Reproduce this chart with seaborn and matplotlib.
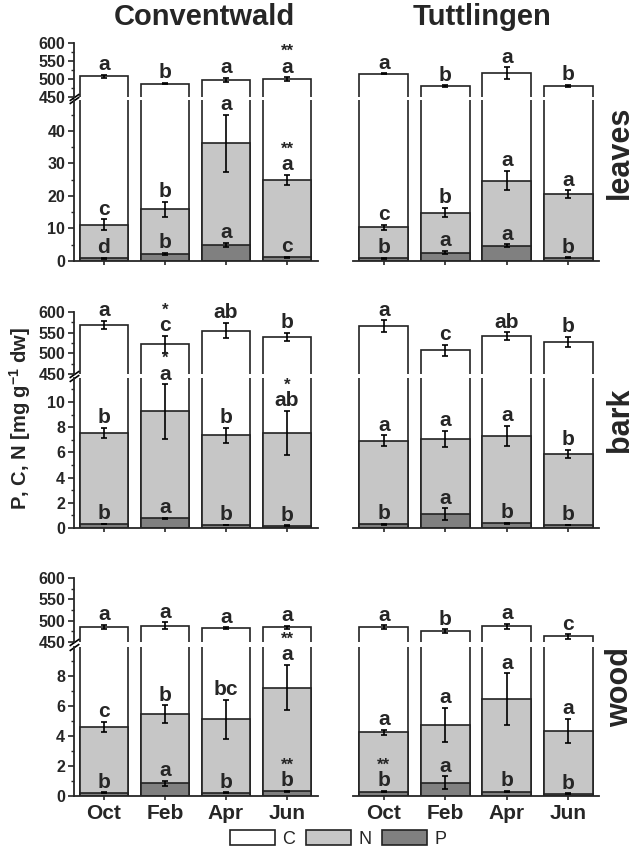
import numpy as np
import matplotlib
matplotlib.use("Agg")
import matplotlib.pyplot as plt
import seaborn as sns
from matplotlib.patches import Patch
from matplotlib.ticker import MultipleLocator

months = ["Oct", "Feb", "Apr", "Jun"]
NOSIG = ["", "", "", ""]

# Conventwald
cw_leaves_C = [508, 487, 498, 500]
cw_leaves_C_err = [4, 2, 6, 5]
cw_leaves_C_let = ["a", "b", "a", "a"]
cw_leaves_C_sig = ["", "", "", "**"]
cw_leaves_N = [11.2, 15.9, 36.2, 25.0]
cw_leaves_N_err = [1.6, 2.3, 8.8, 1.5]
cw_leaves_N_let = ["c", "b", "a", "a"]
cw_leaves_N_sig = ["", "", "", "**"]
cw_leaves_P = [0.8, 2.1, 4.9, 1.1]
cw_leaves_P_err = [0.2, 0.3, 0.6, 0.2]
cw_leaves_P_let = ["d", "b", "a", "c"]

cw_bark_C = [569, 522, 555, 540]
cw_bark_C_err = [10, 20, 18, 9]
cw_bark_C_let = ["a", "c", "ab", "b"]
cw_bark_C_sig = ["", "*", "", ""]
cw_bark_N = [7.55, 9.25, 7.37, 7.55]
cw_bark_N_err = [0.4, 2.15, 0.6, 1.75]
cw_bark_N_let = ["b", "a", "b", "ab"]
cw_bark_N_sig = ["", "*", "", "*"]
cw_bark_P = [0.32, 0.76, 0.24, 0.18]
cw_bark_P_err = [0.03, 0.05, 0.02, 0.03]
cw_bark_P_let = ["b", "a", "b", "b"]

cw_wood_C = [485, 488, 482, 484]
cw_wood_C_err = [5, 8, 2, 4]
cw_wood_C_let = ["a", "a", "a", "a"]
cw_wood_N = [4.58, 5.42, 5.11, 7.2]
cw_wood_N_err = [0.34, 0.6, 1.29, 1.5]
cw_wood_N_let = ["c", "b", "bc", "a"]
cw_wood_N_sig = ["", "", "", "**"]
cw_wood_P = [0.22, 0.84, 0.22, 0.31]
cw_wood_P_err = [0.02, 0.16, 0.02, 0.03]
cw_wood_P_let = ["b", "a", "b", "b"]
cw_wood_P_sig = ["", "", "", "**"]

# Tuttlingen
tu_leaves_C = [515, 480, 516, 480]
tu_leaves_C_err = [1, 2, 16, 3]
tu_leaves_C_let = ["a", "b", "a", "b"]
tu_leaves_N = [10.4, 14.9, 24.7, 20.5]
tu_leaves_N_err = [0.8, 1.5, 3.0, 1.2]
tu_leaves_N_let = ["c", "b", "a", "a"]
tu_leaves_P = [0.8, 2.6, 4.7, 1.0]
tu_leaves_P_err = [0.15, 0.5, 0.4, 0.15]
tu_leaves_P_let = ["b", "a", "a", "b"]

tu_bark_C = [566, 507, 542, 528]
tu_bark_C_err = [14, 13, 9, 12]
tu_bark_C_let = ["a", "c", "ab", "b"]
tu_bark_N = [6.92, 7.08, 7.29, 5.87]
tu_bark_N_err = [0.42, 0.64, 0.79, 0.32]
tu_bark_N_let = ["a", "a", "a", "b"]
tu_bark_P = [0.29, 1.1, 0.37, 0.24]
tu_bark_P_err = [0.03, 0.45, 0.05, 0.03]
tu_bark_P_let = ["b", "a", "b", "b"]

tu_wood_C = [485, 475, 487, 463]
tu_wood_C_err = [4, 5, 6, 5]
tu_wood_C_let = ["a", "b", "a", "c"]
tu_wood_N = [4.22, 4.73, 6.44, 4.33]
tu_wood_N_err = [0.19, 1.12, 1.71, 0.81]
tu_wood_N_let = ["a", "a", "a", "a"]
tu_wood_P = [0.29, 0.87, 0.29, 0.16]
tu_wood_P_err = [0.03, 0.43, 0.03, 0.02]
tu_wood_P_let = ["b", "a", "b", "b"]
tu_wood_P_sig = ["**", "", "", ""]

sns.set_style("ticks")
plt.rcParams["font.family"] = ["Liberation Sans", "DejaVu Sans"]
plt.rcParams["font.weight"] = "bold"
plt.rcParams["mathtext.fontset"] = "custom"
plt.rcParams["mathtext.rm"] = "Liberation Sans:bold"
plt.rcParams["mathtext.bf"] = "Liberation Sans:bold"

N_COL = "#c6c6c6"
P_COL = "#808080"
EDGE = "#222222"

W, H = 638, 857
fig = plt.figure(figsize=(W / 100, H / 100), dpi=100)


def add_px(x0, x1, y0, y1):
    return fig.add_axes([x0 / W, 1 - y1 / H, (x1 - x0) / W, (y1 - y0) / H])


def label(ax, x, y, txt, off, size=15):
    if txt:
        ax.annotate(txt, (x, y), xytext=(0, off), textcoords="offset points",
                    ha="center", va="bottom", fontsize=size, fontweight="bold",
                    annotation_clip=False, zorder=10)


def bars(ax, vals, errs, col):
    sns.barplot(x=months, y=vals, color=col, saturation=1, edgecolor=EDGE,
                linewidth=1.2, width=0.8, errorbar=None, ax=ax)
    ax.errorbar(np.arange(len(months)), vals, yerr=errs, fmt="none", ecolor="k",
                elinewidth=1.2, capsize=2.5, capthick=1.2, zorder=6)


def panel(top, bot, C, N, P, ymax, step, left, bottom_row):
    bars(top, C[0], C[1], "white")
    bars(bot, C[0], C[1], "white")
    bars(bot, N[0], N[1], N_COL)
    bars(bot, P[0], P[1], P_COL)
    top.set_yticks([450, 500, 550, 600])
    top.yaxis.set_minor_locator(MultipleLocator(25))
    bot.set_yticks(np.arange(0, ymax * 0.85, step))
    bot.yaxis.set_minor_locator(MultipleLocator(step / 2))
    top.set_ylim(450, 600)
    bot.set_ylim(0, ymax)
    for ax in (top, bot):
        ax.set_xlim(-0.5, 3.5)

    for i in range(len(months)):
        for data, ax in ((C, top), (N, bot), (P, bot)):
            y = data[0][i] + data[1][i]
            label(ax, i, y, data[2][i], 0.5)
            label(ax, i, y, data[3][i], 13, size=12)

    for ax in (top, bot):
        ax.set_xlabel("")
        ax.set_ylabel("")
        sns.despine(ax=ax)
        ax.tick_params(which="major", direction="out", length=4, width=1.2,
                       labelsize=11.5, pad=2)
        ax.tick_params(which="minor", direction="out", length=2, width=1)
        for s in ax.spines.values():
            s.set_linewidth(1.3)
    top.spines["bottom"].set_visible(False)
    top.tick_params(axis="x", which="both", bottom=False, labelbottom=False)
    bot.tick_params(axis="x", length=3, labelbottom=bottom_row, labelsize=15, pad=3)
    if left:
        for ax, yy in ((top, 0), (bot, 1)):
            ax.plot([0], [yy], transform=ax.transAxes, marker=[(-1, -0.7), (1, 0.7)],
                    markersize=7, mew=1.2, color="k", linestyle="none", clip_on=False)
    else:
        top.spines["left"].set_visible(False)
        bot.spines["left"].set_visible(False)
        for ax in (top, bot):
            ax.tick_params(axis="y", which="both", left=False, labelleft=False)


cols = [(73.5, 317.5), (353, 599)]
rows = [((43, 97), (100, 261), 49.5, 10), ((312, 374), (378, 528), 11.9, 2),
        ((578, 642), (647, 796), 9.9, 2)]
tissues = ["leaves", "bark", "wood"]

site_data = [
    [
        ((cw_leaves_C, cw_leaves_C_err, cw_leaves_C_let, cw_leaves_C_sig),
         (cw_leaves_N, cw_leaves_N_err, cw_leaves_N_let, cw_leaves_N_sig),
         (cw_leaves_P, cw_leaves_P_err, cw_leaves_P_let, NOSIG)),
        ((cw_bark_C, cw_bark_C_err, cw_bark_C_let, cw_bark_C_sig),
         (cw_bark_N, cw_bark_N_err, cw_bark_N_let, cw_bark_N_sig),
         (cw_bark_P, cw_bark_P_err, cw_bark_P_let, NOSIG)),
        ((cw_wood_C, cw_wood_C_err, cw_wood_C_let, NOSIG),
         (cw_wood_N, cw_wood_N_err, cw_wood_N_let, cw_wood_N_sig),
         (cw_wood_P, cw_wood_P_err, cw_wood_P_let, cw_wood_P_sig)),
    ],
    [
        ((tu_leaves_C, tu_leaves_C_err, tu_leaves_C_let, NOSIG),
         (tu_leaves_N, tu_leaves_N_err, tu_leaves_N_let, NOSIG),
         (tu_leaves_P, tu_leaves_P_err, tu_leaves_P_let, NOSIG)),
        ((tu_bark_C, tu_bark_C_err, tu_bark_C_let, NOSIG),
         (tu_bark_N, tu_bark_N_err, tu_bark_N_let, NOSIG),
         (tu_bark_P, tu_bark_P_err, tu_bark_P_let, NOSIG)),
        ((tu_wood_C, tu_wood_C_err, tu_wood_C_let, NOSIG),
         (tu_wood_N, tu_wood_N_err, tu_wood_N_let, NOSIG),
         (tu_wood_P, tu_wood_P_err, tu_wood_P_let, tu_wood_P_sig)),
    ],
]

for ci, (x0, x1) in enumerate(cols):
    for ri, (tp, bt, ymax, step) in enumerate(rows):
        top = add_px(x0, x1, tp[0], tp[1])
        bot = add_px(x0, x1, bt[0], bt[1])
        C, N, P = site_data[ci][ri]
        panel(top, bot, C, N, P, ymax, step, ci == 0, ri == 2)

for ri, name in enumerate(tissues):
    yc = (rows[ri][0][0] + rows[ri][1][1]) / 2
    fig.text(620 / W, 1 - yc / H, name, rotation=90, ha="center", va="center",
             fontsize=22, fontweight="bold")

fig.text(204 / W, 1 - 17 / H, "Conventwald", ha="center", va="center",
         fontsize=21, fontweight="bold")
fig.text(482 / W, 1 - 17 / H, "Tuttlingen", ha="center", va="center",
         fontsize=21, fontweight="bold")
fig.text(20 / W, 1 - 418 / H, r"P, C, N [mg g$^{-1}$ dw]", rotation=90,
         ha="center", va="center", fontsize=14.5, fontweight="bold")

handles = [Patch(facecolor=c, edgecolor=EDGE, linewidth=1.2)
           for c in ("white", N_COL, P_COL)]
fig.legend(handles, ["C", "N", "P"], loc="center", bbox_to_anchor=(338 / W, 1 - 839 / H),
           ncol=3, frameon=False, handlelength=2.5, handleheight=0.9,
           handletextpad=0.4, columnspacing=0.6,
           prop={"weight": "normal", "size": 13})

fig.savefig("out.png", dpi=100)
